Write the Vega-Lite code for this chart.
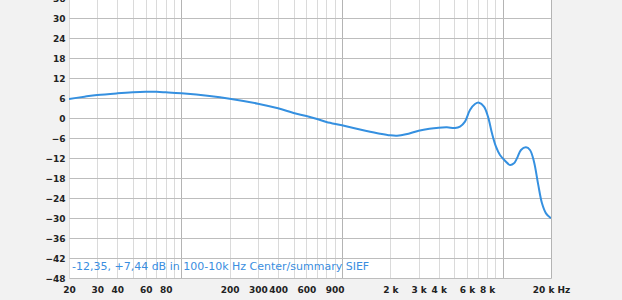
{
  "$schema": "https://vega.github.io/schema/vega-lite/v6.json",
  "width": 482,
  "height": 280,
  "autosize": {"type": "none"},
  "padding": {"left": 69, "top": -2, "right": 71, "bottom": 22},
  "background": "#f2f2f2",
  "view": {"fill": "white", "stroke": null},
  "datasets": {
    "curve": [
      {"f": 20, "db": 5.7}, {"f": 25, "db": 6.4}, {"f": 30, "db": 6.9}, {"f": 40, "db": 7.4},
      {"f": 50, "db": 7.7}, {"f": 60, "db": 7.85}, {"f": 70, "db": 7.85}, {"f": 80, "db": 7.7},
      {"f": 100, "db": 7.4}, {"f": 150, "db": 6.6}, {"f": 200, "db": 5.8}, {"f": 300, "db": 4.3},
      {"f": 400, "db": 2.9}, {"f": 500, "db": 1.5}, {"f": 600, "db": 0.6}, {"f": 700, "db": -0.3},
      {"f": 800, "db": -1.2}, {"f": 1000, "db": -2.2}, {"f": 1400, "db": -3.8}, {"f": 1724, "db": -4.7},
      {"f": 2000, "db": -5.2}, {"f": 2200, "db": -5.3}, {"f": 2500, "db": -4.9}, {"f": 3000, "db": -3.8},
      {"f": 3500, "db": -3.2}, {"f": 4000, "db": -2.9}, {"f": 4500, "db": -2.8}, {"f": 5052, "db": -3.0},
      {"f": 5428, "db": -2.6}, {"f": 5830, "db": -1.1}, {"f": 6262, "db": 2.4}, {"f": 6727, "db": 4.2},
      {"f": 7124, "db": 4.6}, {"f": 7654, "db": 3.4}, {"f": 8106, "db": 0.4}, {"f": 8584, "db": -4.6},
      {"f": 9090, "db": -8.6}, {"f": 9627, "db": -11.1}, {"f": 10340, "db": -12.8}, {"f": 11108, "db": -14.1},
      {"f": 11764, "db": -13.6}, {"f": 12282, "db": -12.1}, {"f": 13006, "db": -9.6}, {"f": 13974, "db": -8.8},
      {"f": 14798, "db": -9.6}, {"f": 15672, "db": -13.1}, {"f": 16596, "db": -19.6}, {"f": 17578, "db": -25.6},
      {"f": 18614, "db": -28.6}, {"f": 20000, "db": -30.1}
    ],
    "note": [
      {"f": 20.87, "db": -44.6, "label": "-12,35, +7,44 dB in 100-10k Hz Center/summary SIEF"}
    ]
  },
  "encoding": {
    "x": {
      "field": "f", "type": "quantitative",
      "scale": {"type": "log", "domain": [20, 20000], "nice": false},
      "axis": {
        "title": null,
        "values": [20,30,40,50,60,70,80,90,100,200,300,400,500,600,700,800,900,1000,2000,3000,4000,5000,6000,7000,8000,9000,10000,20000],
        "labelExpr": "indexof([20,30,40,60,80,200,300,400,600,900], datum.value) >= 0 ? datum.value + '' : (indexof([2000,3000,4000,6000,8000], datum.value) >= 0 ? (datum.value/1000) + ' k' : (datum.value == 20000 ? '20 k Hz' : ''))",
        "labelOverlap": false,
        "labelFlush": false,
        "labelFont": "DejaVu Sans",
        "labelFontWeight": "bold",
        "labelFontSize": 9,
        "labelColor": "#222222",
        "labelPadding": 7,
        "labelDx": {"expr": "datum.value == 20000 ? 14 : 0"},
        "ticks": false,
        "domain": false,
        "grid": true,
        "gridColor": {"condition": {"test": "datum.value == 100 || datum.value == 1000 || datum.value == 10000 || datum.value == 20000", "value": "#b4b4b4"}, "value": "#dadada"},
        "gridWidth": 1
      }
    },
    "y": {
      "field": "db", "type": "quantitative",
      "scale": {"domain": [-48, 36], "nice": false},
      "axis": {
        "title": null,
        "values": [-48,-42,-36,-30,-24,-18,-12,-6,0,6,12,18,24,30,36],
        "labelFont": "DejaVu Sans",
        "labelFontWeight": "bold",
        "labelFontSize": 9,
        "labelColor": "#222222",
        "labelPadding": 4,
        "ticks": false,
        "domain": false,
        "grid": true,
        "gridColor": "#bdbdbd",
        "gridWidth": 1
      }
    }
  },
  "layer": [
    {
      "data": {"name": "curve"},
      "mark": {"type": "line", "color": "#3590e0", "strokeWidth": 2, "interpolate": "catmull-rom", "clip": true}
    },
    {
      "data": {"name": "note"},
      "mark": {"type": "text", "align": "left", "baseline": "middle", "font": "DejaVu Sans", "fontSize": 11, "color": "#3a8ee0"},
      "encoding": {"text": {"field": "label"}}
    }
  ]
}
